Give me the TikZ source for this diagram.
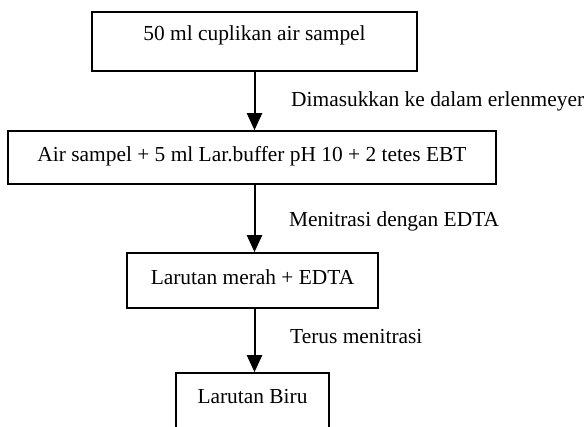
\documentclass[tikz,border=0pt]{standalone}
\usepackage{fontspec}
\setmainfont{Liberation Serif}
\usetikzlibrary{arrows.meta}
\begin{document}
\begin{tikzpicture}[x=1pt,y=-1pt,
  every node/.style={font=\fontsize{21.4}{25}\selectfont, inner sep=0pt},
  box/.style={draw, line width=1.6pt, align=center},
  flow/.style={line width=2pt, -{Triangle[length=17pt,width=15pt]}},
  note/.style={anchor=base west}]
\clip (0,0) rectangle (587,427);
\fill[white] (0,0) rectangle (587,427);
\node[box, minimum width=325pt, minimum height=59pt, text height=10pt, text depth=11pt] (b1) at (254.5,41.5) {50 ml cuplikan air sampel};
\node[box, minimum width=488pt, minimum height=53pt, text height=15pt, text depth=6pt] (b2) at (252,157.5) {Air sampel + 5 ml Lar.buffer pH 10 + 2 tetes EBT};
\node[box, minimum width=251pt, minimum height=55pt, text height=14pt, text depth=6pt] (b3) at (252.5,280.5) {Larutan merah + EDTA};
\node[box, minimum width=153pt, minimum height=70pt, text height=10pt, text depth=18pt] (b4) at (252.5,408) {Larutan Biru};
\draw[flow] (b1.south) -- (b1.south |- b2.north);
\draw[flow] (b1.south |- b2.south) -- (b1.south |- b3.north);
\draw[flow] (b1.south |- b3.south) -- (b1.south |- b4.north);
\node[note] (l1) at (291,107) {Dimasukkan ke dalam erlenmeyer};
\node[note] (l2) at (289,227) {Menitrasi dengan EDTA};
\node[note] (l3) at (290,344) {Terus menitrasi};
\end{tikzpicture}
\end{document}
